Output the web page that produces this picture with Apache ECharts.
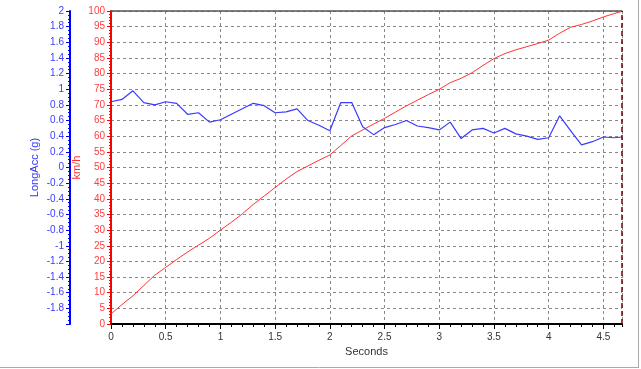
<!DOCTYPE html>
<html>
<head>
<meta charset="utf-8">
<script src="https://cdn.jsdelivr.net/npm/echarts@6/dist/echarts.min.js"></script>
<style>
html,body{margin:0;padding:0;background:#fff;}
#c{width:641px;height:369px;}
</style>
</head>
<body>
<div id="c"></div>
<script>
const seconds = [0,0.1,0.2,0.3,0.4,0.5,0.6,0.7,0.8,0.9,1.0,1.1,1.2,1.3,1.4,1.5,1.6,1.7,1.8,1.9,2.0,2.1,2.2,2.3,2.4,2.5,2.6,2.7,2.8,2.9,3.0,3.1,3.2,3.3,3.4,3.5,3.6,3.7,3.8,3.9,4.0,4.1,4.2,4.3,4.4,4.5,4.6,4.67];
const speedKmh = [3.2,6.2,9.0,12.3,15.6,18.1,20.6,23.0,25.2,27.4,30.0,32.5,35.2,38.2,40.9,43.6,46.3,48.7,50.5,52.3,54.0,57.0,60.1,62.0,63.9,65.7,67.7,69.7,71.5,73.3,75.0,77.1,78.5,80.3,82.6,84.8,86.4,87.6,88.6,89.6,90.7,92.9,94.8,95.7,96.8,98.1,99.2,99.9];
const longAccG = [0.84,0.87,0.98,0.83,0.80,0.84,0.82,0.68,0.70,0.58,0.61,0.68,0.75,0.82,0.79,0.70,0.71,0.75,0.60,0.54,0.47,0.83,0.83,0.52,0.42,0.51,0.55,0.60,0.53,0.51,0.48,0.58,0.37,0.48,0.50,0.44,0.50,0.43,0.40,0.36,0.38,0.66,0.47,0.29,0.33,0.39,0.38,0.39];
const xMax = 4.67;

const chart = echarts.init(document.getElementById('c'), null, {renderer:'canvas'});
const font = 'Liberation Sans, Arial, sans-serif';
chart.setOption({
  animation:false,
  backgroundColor:'#ffffff',
  grid:{left:111, right:19, top:11, bottom:45, show:false},
  xAxis:[{
    type:'value', min:0, max:xMax, interval:0.5, position:'bottom',
    name:'Seconds', nameLocation:'middle', nameGap:22, nameMoveOverlap:false,
    nameTextStyle:{color:'#333', fontSize:11, fontFamily:font},
    axisLine:{show:true, onZero:false, lineStyle:{color:'#000', width:2}},
    axisTick:{show:true, length:5, lineStyle:{color:'#000'}},
    axisLabel:{color:'#333', fontSize:10, fontFamily:font, margin:8, showMaxLabel:false},
    splitLine:{show:true, lineStyle:{color:'#888', type:[3,3], width:1}}
  },{
    type:'value', min:0, max:xMax, interval:0.1, position:'bottom',
    axisLine:{show:false, onZero:false}, axisLabel:{show:false},
    axisTick:{show:true, length:3, lineStyle:{color:'#000'}},
    splitLine:{show:false}
  },{
    type:'value', min:0, max:xMax, position:'top',
    axisLine:{show:true, onZero:false, lineStyle:{color:'#555', width:1.5}},
    axisLabel:{show:false}, axisTick:{show:false}, splitLine:{show:false}
  }],
  yAxis:[{
    type:'value', min:0, max:100, interval:5, position:'left',
    name:'km/h', nameLocation:'middle', nameGap:29, nameRotate:90, nameMoveOverlap:false,
    nameTextStyle:{color:'#ff3030', fontSize:11, fontFamily:font},
    axisLine:{show:true, onZero:false, lineStyle:{color:'#ff0000', width:2}},
    axisTick:{show:true, length:4, lineStyle:{color:'#ff0000'}},
    minorTick:{show:true, splitNumber:5, length:2, lineStyle:{color:'#ff0000'}},
    axisLabel:{color:'#ff4040', fontSize:10, fontFamily:font, margin:6},
    splitLine:{show:true, lineStyle:{color:'#888', type:[3,3], width:1}}
  },{
    type:'value', min:-2, max:2, interval:0.2, position:'left', offset:41,
    name:'LongAcc (g)', nameLocation:'middle', nameGap:30, nameRotate:90, nameMoveOverlap:false,
    nameTextStyle:{color:'#3333ff', fontSize:11, fontFamily:font},
    axisLine:{show:true, onZero:false, lineStyle:{color:'#0000ff', width:2}},
    axisTick:{show:true, length:4, lineStyle:{color:'#0000ff'}},
    minorTick:{show:true, splitNumber:4, length:2, lineStyle:{color:'#0000ff'}},
    axisLabel:{color:'#3c3cff', fontSize:10, fontFamily:font, margin:6, showMinLabel:false},
    splitLine:{show:false}
  }],
  series:[{
    type:'line', name:'km/h', xAxisIndex:0, yAxisIndex:0, symbol:'none',
    lineStyle:{color:'#ff3333', width:1},
    data: seconds.map((t,i)=>[t, speedKmh[i]]),
    markLine:{silent:true, symbol:'none', label:{show:false},
      lineStyle:{color:'#7a0000', type:[5,3], width:1.5},
      data:[{xAxis:xMax}]}
  },{
    type:'line', name:'LongAcc', xAxisIndex:0, yAxisIndex:1, symbol:'none',
    lineStyle:{color:'#3a3aff', width:1.2},
    data: seconds.map((t,i)=>[t, longAccG[i]])
  }],
  graphic:[
    {type:'line', shape:{x1:638.5,y1:0,x2:638.5,y2:368}, style:{stroke:'#aaa', lineWidth:1}},
    {type:'line', shape:{x1:0,y1:367.5,x2:639,y2:367.5}, style:{stroke:'#aaa', lineWidth:1}}
  ]
});
</script>
</body>
</html>
